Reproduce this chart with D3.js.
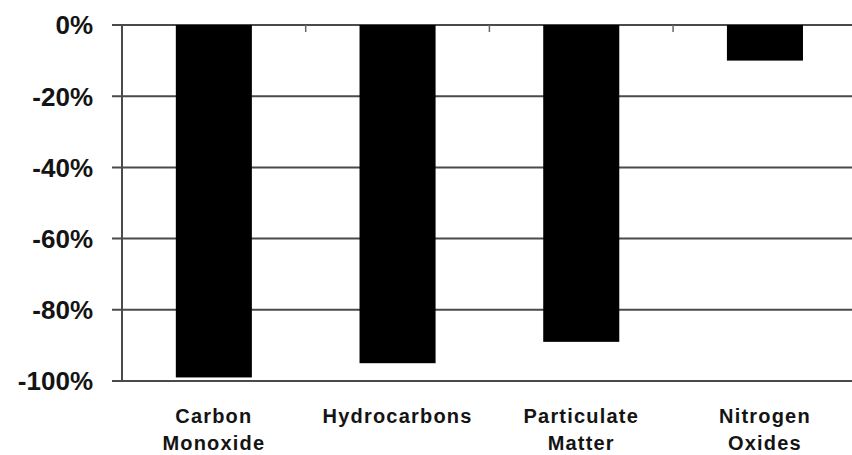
<!DOCTYPE html>
<html>
<head>
<meta charset="utf-8">
<script src="https://cdn.jsdelivr.net/npm/d3@7"></script>
<style>
  html, body { margin: 0; padding: 0; background: #fff; }
  svg { display: block; }
  text { font-family: "Liberation Sans", Arial, sans-serif; font-weight: bold; fill: #141414; }
</style>
</head>
<body>
<div id="chart"></div>
<script>
// emission change by pollutant, percent
const categories = [["Carbon", "Monoxide"], ["Hydrocarbons"], ["Particulate", "Matter"], ["Nitrogen", "Oxides"]];
const values = [-99, -95, -89, -10];
const yTicks = [0, -20, -40, -60, -80, -100];

const W = 852, H = 455;
const plotLeft = 122, plotTop = 25, plotBottom = 381, step = 183.7;

const svg = d3.select("#chart").append("svg").attr("width", W).attr("height", H);

const keys = categories.map(c => c.join(" "));
const x = d3.scaleBand().domain(keys).range([plotLeft, plotLeft + step * keys.length])
  .paddingInner(0.586).paddingOuter(0.293);
const y = d3.scaleLinear().domain([-100, 0]).range([plotBottom, plotTop]);

// gridlines + y ticks
const grid = svg.append("g");
grid.selectAll("line").data(yTicks).enter().append("line")
  .attr("x1", plotLeft - 10).attr("x2", W + 10)
  .attr("y1", d => y(d)).attr("y2", d => y(d))
  .attr("stroke", "#4a4a4a").attr("stroke-width", 2);

// y axis line
svg.append("line").attr("x1", plotLeft).attr("x2", plotLeft)
  .attr("y1", y(0)).attr("y2", y(-100))
  .attr("stroke", "#4a4a4a").attr("stroke-width", 2);

// category boundary ticks (pointing down from the 0 line)
const bounds = keys.slice(1).map((k, i) => plotLeft + step * (i + 1));
svg.append("g").selectAll("line").data(bounds).enter().append("line")
  .attr("x1", d => d).attr("x2", d => d)
  .attr("y1", y(0)).attr("y2", y(0) + 7)
  .attr("stroke", "#666").attr("stroke-width", 1.5);

// bars
svg.append("g").selectAll("rect").data(values).enter().append("rect")
  .attr("x", (d, i) => x(keys[i]))
  .attr("y", y(0))
  .attr("width", x.bandwidth())
  .attr("height", d => y(d) - y(0))
  .attr("fill", "#000");

// y labels
svg.append("g").selectAll("text").data(yTicks).enter().append("text")
  .attr("x", 93).attr("y", d => y(d))
  .attr("dy", "0.36em")
  .attr("text-anchor", "end")
  .attr("font-size", "26px")
  .text(d => d + "%");

// category labels
const cl = svg.append("g").selectAll("text").data(categories).enter().append("text")
  .attr("text-anchor", "middle")
  .attr("font-size", "20px")
  .attr("letter-spacing", "1.2px")
  .attr("y", 423);
cl.selectAll("tspan").data((d, i) => d.map(t => ({ t, i }))).enter().append("tspan")
  .attr("x", d => x(keys[d.i]) + x.bandwidth() / 2)
  .attr("dy", (d, j) => j === 0 ? 0 : 27)
  .text(d => d.t);
</script>
</body>
</html>
